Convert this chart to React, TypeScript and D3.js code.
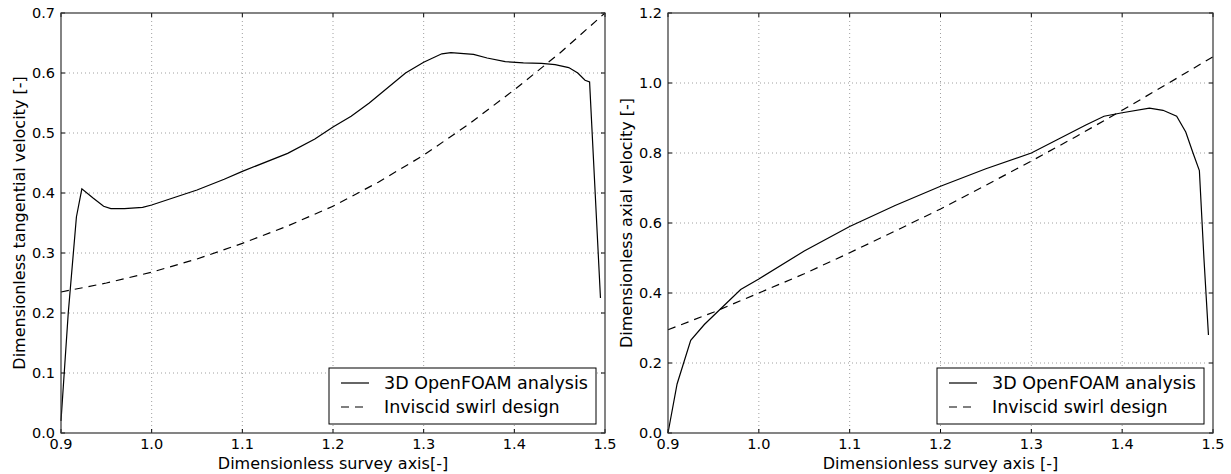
import React, { useRef, useEffect } from 'react'
import * as d3 from 'd3'

// left panel: tangential velocity
const tanX = [0.9, 0.908, 0.917, 0.923, 0.935, 0.947, 0.955, 0.97, 0.99, 1.0, 1.02, 1.05, 1.08, 1.1, 1.15, 1.18, 1.2, 1.22, 1.24, 1.26, 1.28, 1.3, 1.32, 1.33, 1.355, 1.37, 1.39, 1.41, 1.43, 1.445, 1.46, 1.47, 1.478, 1.483, 1.495]
const tanCfd = [0.02, 0.2, 0.36, 0.407, 0.392, 0.378, 0.374, 0.374, 0.376, 0.38, 0.39, 0.405, 0.423, 0.436, 0.466, 0.49, 0.51, 0.528, 0.55, 0.575, 0.6, 0.618, 0.632, 0.634, 0.631, 0.625, 0.619, 0.617, 0.616, 0.614, 0.609, 0.6, 0.588, 0.585, 0.225]
const tanDesignX = [0.9, 0.95, 1.0, 1.05, 1.1, 1.15, 1.2, 1.25, 1.3, 1.35, 1.4, 1.45, 1.5]
const tanDesign = [0.235, 0.25, 0.268, 0.29, 0.316, 0.345, 0.378, 0.418, 0.463, 0.515, 0.572, 0.633, 0.7]

// right panel: axial velocity
const axX = [0.9, 0.91, 0.925, 0.94, 0.96, 0.98, 1.0, 1.05, 1.1, 1.15, 1.2, 1.25, 1.3, 1.33, 1.36, 1.38, 1.4, 1.43, 1.445, 1.46, 1.47, 1.478, 1.485, 1.49, 1.495]
const axCfd = [0.0, 0.14, 0.265, 0.31, 0.36, 0.41, 0.44, 0.52, 0.59, 0.65, 0.705, 0.755, 0.8, 0.84, 0.88, 0.905, 0.915, 0.928, 0.922, 0.905, 0.86, 0.8, 0.75, 0.5, 0.28]
const axDesignX = [0.9, 0.95, 1.0, 1.05, 1.1, 1.15, 1.2, 1.25, 1.3, 1.35, 1.4, 1.45, 1.5]
const axDesign = [0.295, 0.345, 0.4, 0.455, 0.515, 0.577, 0.64, 0.708, 0.777, 0.848, 0.922, 0.998, 1.075]

const xTicks = [0.9, 1.0, 1.1, 1.2, 1.3, 1.4, 1.5]
const tanYTicks = [0, 0.1, 0.2, 0.3, 0.4, 0.5, 0.6, 0.7]
const axYTicks = [0, 0.2, 0.4, 0.6, 0.8, 1.0, 1.2]
const seriesNames = ['3D OpenFOAM analysis', 'Inviscid swirl design']

const FONT = 'DejaVu Sans, sans-serif'

type Panel = {
  left: number
  right: number
  yMax: number
  yTicks: number[]
  xLabel: string
  yLabel: string
  cfdX: number[]
  cfd: number[]
  desX: number[]
  des: number[]
}

const panels: Panel[] = [
  { left: 61, right: 605, yMax: 0.7, yTicks: tanYTicks, xLabel: 'Dimensionless survey axis[-]', yLabel: 'Dimensionless tangential velocity [-]', cfdX: tanX, cfd: tanCfd, desX: tanDesignX, des: tanDesign },
  { left: 668, right: 1213, yMax: 1.2, yTicks: axYTicks, xLabel: 'Dimensionless survey axis [-]', yLabel: 'Dimensionless axial velocity [-]', cfdX: axX, cfd: axCfd, desX: axDesignX, des: axDesign },
]

export default function App() {
  const ref = useRef<SVGSVGElement>(null)

  useEffect(() => {
    const svg = d3.select(ref.current)
    svg.selectAll('*').remove()
    const top = 13, bottom = 433

    panels.forEach(p => {
      const x = d3.scaleLinear().domain([0.9, 1.5]).range([p.left, p.right])
      const y = d3.scaleLinear().domain([0, p.yMax]).range([bottom, top])
      const g = svg.append('g')

      // grid
      g.selectAll('line.gx').data(xTicks.slice(1, -1)).join('line')
        .attr('x1', d => x(d)).attr('x2', d => x(d)).attr('y1', top).attr('y2', bottom)
        .attr('stroke', '#888').attr('stroke-width', 0.8).attr('stroke-dasharray', '1,3')
      g.selectAll('line.gy').data(p.yTicks.slice(1, -1)).join('line')
        .attr('y1', d => y(d)).attr('y2', d => y(d)).attr('x1', p.left).attr('x2', p.right)
        .attr('stroke', '#888').attr('stroke-width', 0.8).attr('stroke-dasharray', '1,3')

      // data lines
      const line = d3.line<[number, number]>().x(d => x(d[0])).y(d => y(d[1]))
      g.append('path').datum(p.des.map((v, i) => [p.desX[i], v] as [number, number]))
        .attr('d', line).attr('fill', 'none').attr('stroke', '#000').attr('stroke-width', 1.2)
        .attr('stroke-dasharray', '8,6')
      g.append('path').datum(p.cfd.map((v, i) => [p.cfdX[i], v] as [number, number]))
        .attr('d', line).attr('fill', 'none').attr('stroke', '#000').attr('stroke-width', 1.2)

      // inward ticks on all sides
      xTicks.forEach(t => {
        g.append('line').attr('x1', x(t)).attr('x2', x(t)).attr('y1', bottom).attr('y2', bottom - 4).attr('stroke', '#000')
        g.append('line').attr('x1', x(t)).attr('x2', x(t)).attr('y1', top).attr('y2', top + 4).attr('stroke', '#000')
        g.append('text').attr('x', x(t)).attr('y', bottom + 16).attr('text-anchor', 'middle')
          .attr('font-family', FONT).attr('font-size', 14.5).text(d3.format('.1f')(t))
      })
      p.yTicks.forEach(t => {
        g.append('line').attr('x1', p.left).attr('x2', p.left + 4).attr('y1', y(t)).attr('y2', y(t)).attr('stroke', '#000')
        g.append('line').attr('x1', p.right).attr('x2', p.right - 4).attr('y1', y(t)).attr('y2', y(t)).attr('stroke', '#000')
        g.append('text').attr('x', p.left - 6).attr('y', y(t) + 5).attr('text-anchor', 'end')
          .attr('font-family', FONT).attr('font-size', 14.5).text(d3.format('.1f')(t))
      })

      // frame
      g.append('rect').attr('x', p.left).attr('y', top).attr('width', p.right - p.left).attr('height', bottom - top)
        .attr('fill', 'none').attr('stroke', '#333').attr('stroke-width', 1.2)

      // axis labels
      g.append('text').attr('x', (p.left + p.right) / 2).attr('y', 469).attr('text-anchor', 'middle')
        .attr('font-family', FONT).attr('font-size', 16).text(p.xLabel)
      g.append('text').attr('transform', `translate(${p.left - 36},${(top + bottom) / 2}) rotate(-90)`)
        .attr('text-anchor', 'middle').attr('font-family', FONT).attr('font-size', 16).text(p.yLabel)

      // legend
      const lw = 267, lh = 56
      const lx = p.right - 9 - lw, ly = bottom - 9 - lh
      g.append('rect').attr('x', lx).attr('y', ly).attr('width', lw).attr('height', lh)
        .attr('fill', '#fff').attr('stroke', '#000').attr('stroke-width', 1)
      seriesNames.forEach((name, i) => {
        const yy = ly + 15 + i * 24
        g.append('line').attr('x1', lx + 12).attr('x2', lx + 40).attr('y1', yy).attr('y2', yy)
          .attr('stroke', '#000').attr('stroke-width', 1.2).attr('stroke-dasharray', i === 1 ? '8,6' : null)
        g.append('text').attr('x', lx + 55).attr('y', yy + 6).attr('font-family', FONT).attr('font-size', 17.5).text(name)
      })
    })
  }, [])

  return (
    <svg ref={ref} width={1231} height={474} style={{ position: 'absolute', left: 0, top: 0, background: '#fff' }} />
  )
}
